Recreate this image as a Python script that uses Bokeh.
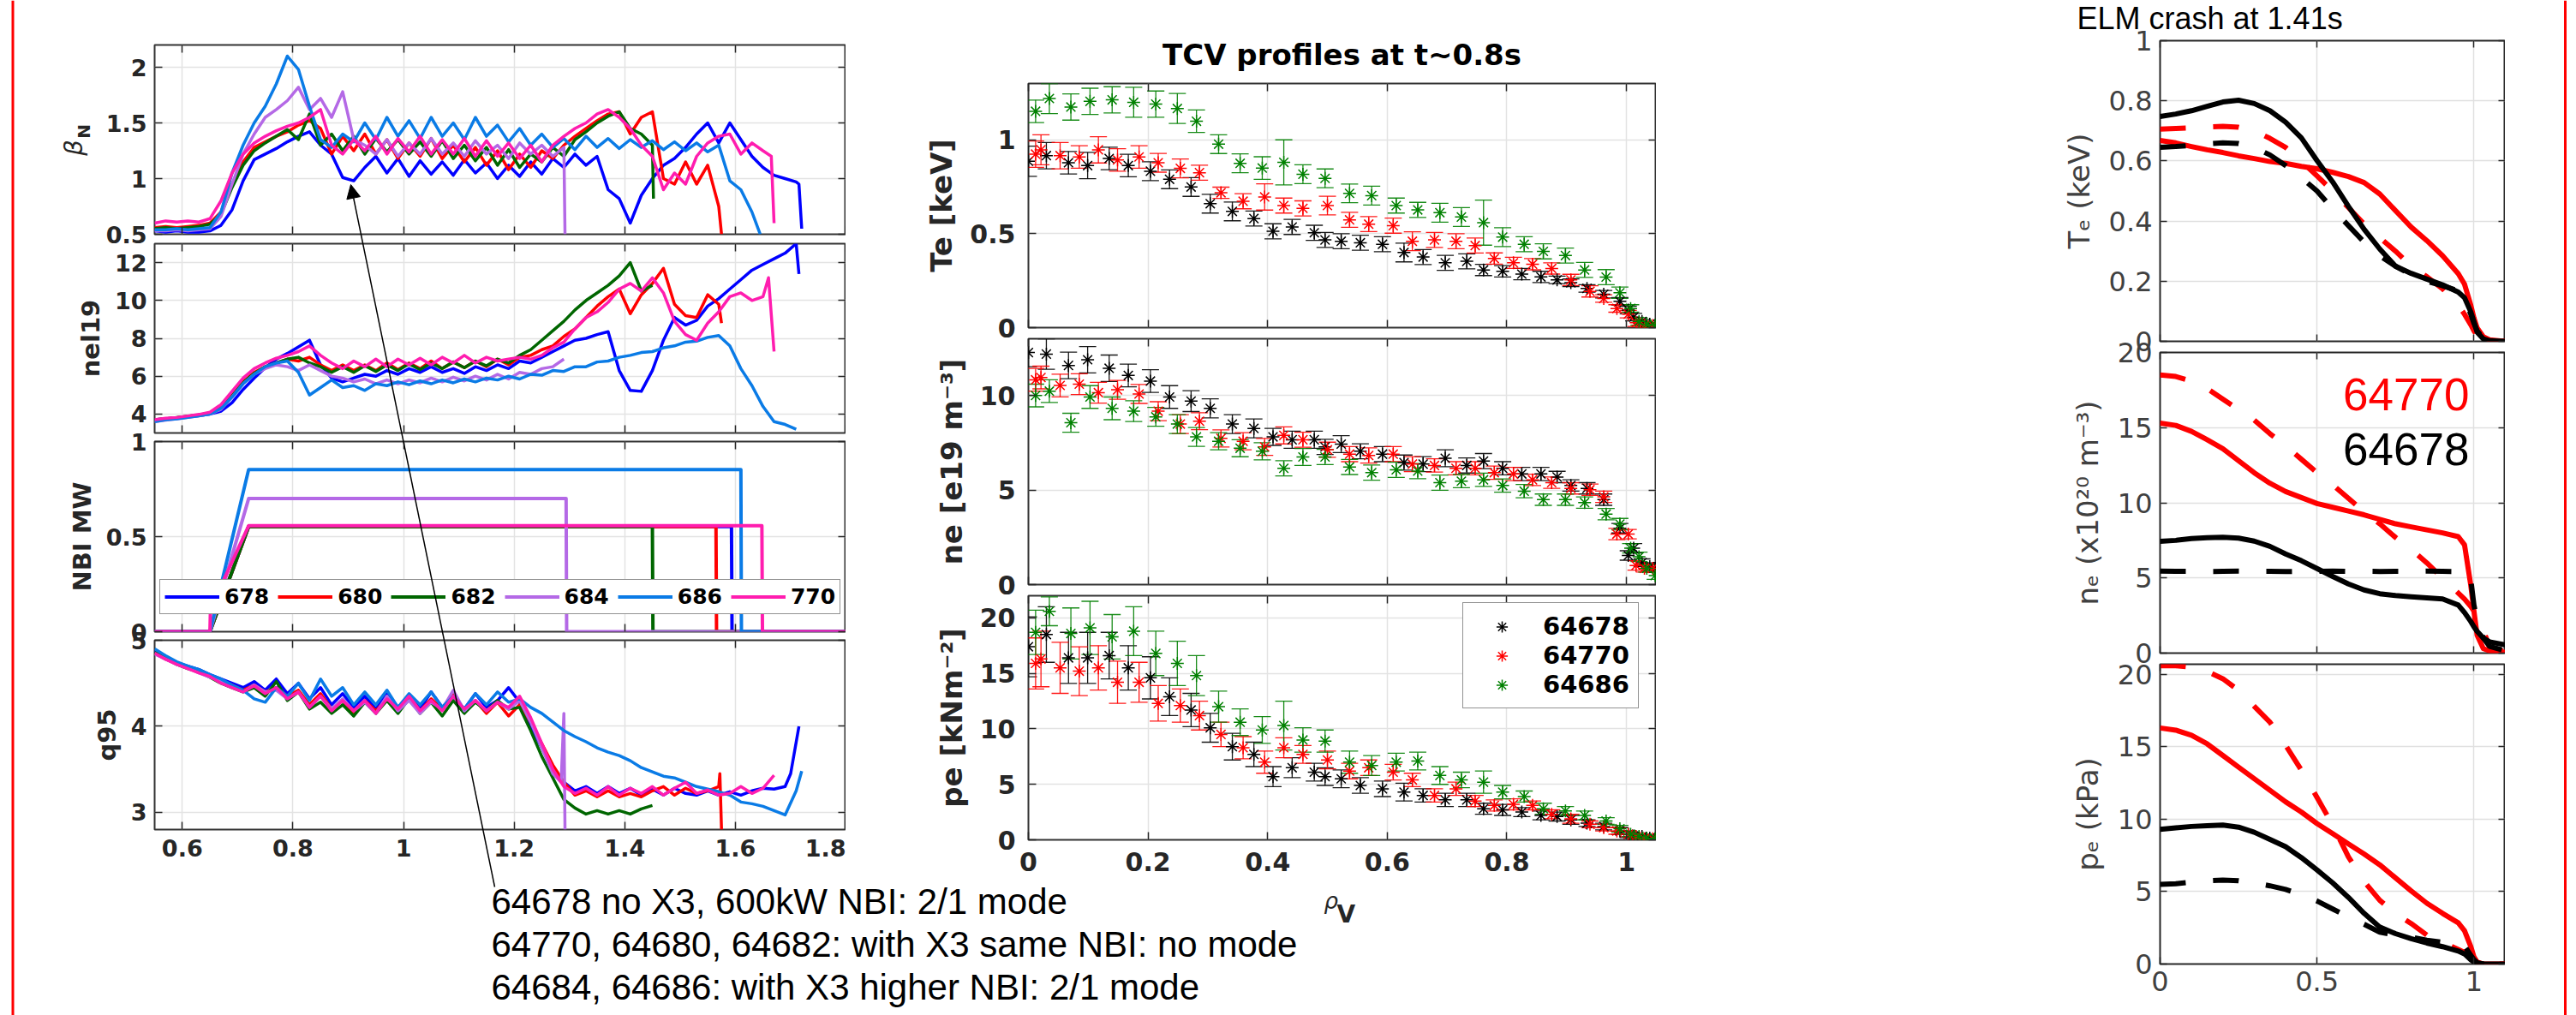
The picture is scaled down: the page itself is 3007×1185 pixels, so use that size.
import math
from bokeh.plotting import figure
from bokeh.models import (Range1d, FixedTicker, LinearAxis, Legend, LegendItem,
                          Whisker, TeeHead, ColumnDataSource, Label, Arrow,
                          NormalHead, CustomJSTickFormatter, Column, Span)
from bokeh.embed import file_html
from bokeh.resources import INLINE

# ======================= DATA =======================
# ---- left column: time traces (legend shows last 3 digits of shot) ----
SHOTS = ["678", "680", "682", "684", "686", "770"]
COLORS = ["#0000FF", "#FF0000", "#006600", "#B469E6", "#0A7BE6", "#FF1DAF"]

T = [0.55, 0.57, 0.59, 0.61, 0.63, 0.65, 0.67, 0.69, 0.71, 0.73,
     0.75, 0.77, 0.79, 0.81, 0.83, 0.85, 0.87, 0.89, 0.91, 0.93,
     0.95, 0.97, 0.99, 1.01, 1.03, 1.05, 1.07, 1.09, 1.11, 1.13,
     1.15, 1.17, 1.19, 1.21, 1.23, 1.25, 1.27, 1.29, 1.31, 1.33,
     1.35, 1.37, 1.39, 1.41, 1.43, 1.45, 1.47, 1.49, 1.51, 1.53,
     1.55, 1.57, 1.59, 1.61, 1.63, 1.65, 1.67, 1.69, 1.71]

# beta_N
bn_678 = [0.53, 0.52, 0.53, 0.52, 0.52, 0.53, 0.58, 0.72, 0.98, 1.17,
          1.22, 1.27, 1.33, 1.38, 1.42, 1.30, 1.22, 1.01, 0.98, 1.10,
          1.20, 1.05, 1.18, 1.02, 1.16, 1.04, 1.15, 1.03, 1.17, 1.05,
          1.14, 1.00, 1.12, 1.02, 1.15, 1.04, 1.18, 1.10, 1.22, 1.12,
          1.20, 0.90, 0.82, 0.60, 0.85, 1.00, 1.12, 1.18, 1.28, 1.40,
          1.50, 1.32, 1.50, 1.35, 1.20, 1.10, 1.03, 1.00, 0.97]
bn_678_et, bn_678_ev = [1.715, 1.72], [0.95, 0.55]
bn_680 = [0.56, 0.57, 0.56, 0.57, 0.58, 0.60, 0.70, 0.95, 1.15, 1.28,
          1.33, 1.38, 1.42, 1.48, 1.52, 1.45, 1.22, 1.38, 1.25, 1.40,
          1.22, 1.35, 1.18, 1.32, 1.20, 1.36, 1.18, 1.30, 1.15, 1.28,
          1.12, 1.25, 1.08, 1.22, 1.10, 1.25, 1.18, 1.30, 1.38, 1.45,
          1.52, 1.58, 1.60, 1.40, 1.55, 1.60, 1.00, 0.95, 1.15, 0.95,
          1.12, 0.75]
bn_680_et, bn_680_ev = [1.575], [0.5]
bn_682 = [0.55, 0.56, 0.55, 0.56, 0.57, 0.59, 0.68, 0.92, 1.12, 1.25,
          1.32, 1.38, 1.44, 1.35, 1.58, 1.30, 1.40, 1.25, 1.38, 1.22,
          1.36, 1.24, 1.35, 1.22, 1.33, 1.20, 1.34, 1.18, 1.30, 1.16,
          1.28, 1.12, 1.26, 1.10, 1.22, 1.15, 1.28, 1.20, 1.35, 1.42,
          1.50, 1.56, 1.60, 1.45, 1.40]
bn_682_et, bn_682_ev = [1.45, 1.452], [1.30, 0.82]
bn_684 = [0.53, 0.53, 0.54, 0.53, 0.54, 0.55, 0.66, 0.95, 1.22, 1.40,
          1.55, 1.62, 1.70, 1.82, 1.62, 1.72, 1.55, 1.78, 1.35, 1.30,
          1.22, 1.35, 1.20, 1.32, 1.22, 1.36, 1.22, 1.32, 1.20, 1.34,
          1.22, 1.30, 1.18, 1.32, 1.22, 1.30, 1.20]
bn_684_et, bn_684_ev = [1.29, 1.292], [1.28, 0.5]
bn_686 = [0.54, 0.54, 0.55, 0.54, 0.55, 0.56, 0.70, 1.05, 1.30, 1.50,
          1.65, 1.85, 2.10, 1.98, 1.65, 1.35, 1.28, 1.40, 1.33, 1.50,
          1.35, 1.55, 1.38, 1.52, 1.36, 1.55, 1.38, 1.50, 1.35, 1.55,
          1.38, 1.48, 1.33, 1.45, 1.30, 1.40, 1.28, 1.36, 1.26, 1.38,
          1.28, 1.36, 1.27, 1.35, 1.28, 1.34, 1.26, 1.33, 1.25, 1.32,
          1.24, 1.30, 0.98, 0.90, 0.70]
bn_686_et, bn_686_ev = [1.645], [0.5]
bn_770 = [0.60, 0.62, 0.61, 0.62, 0.61, 0.64, 0.80, 1.05, 1.22, 1.32,
          1.38, 1.43, 1.47, 1.50, 1.55, 1.62, 1.30, 1.22, 1.35, 1.25,
          1.38, 1.22, 1.36, 1.24, 1.38, 1.22, 1.35, 1.22, 1.36, 1.20,
          1.34, 1.20, 1.32, 1.18, 1.30, 1.15, 1.30, 1.38, 1.45, 1.50,
          1.58, 1.62, 1.55, 1.45, 1.30, 1.20, 0.90, 1.05, 0.95, 1.20,
          1.32, 1.38, 1.40, 1.22, 1.32, 1.25]
bn_770_et, bn_770_ev = [1.665, 1.67], [1.20, 0.6]

# nel19
ne_678 = [3.70, 3.75, 3.80, 3.85, 3.92, 4.00, 4.15, 4.60, 5.30, 5.90,
          6.45, 6.90, 7.20, 7.55, 7.90, 6.60, 5.90, 5.70, 5.90, 6.10,
          6.00, 6.30, 6.10, 6.40, 6.20, 6.50, 6.20, 6.40, 6.15, 6.50,
          6.30, 6.60, 6.40, 6.80, 6.70, 7.00, 7.30, 7.60, 7.90, 8.00,
          8.20, 8.35, 6.30, 5.25, 5.20, 6.30, 7.90, 9.10, 8.70, 8.95,
          9.70, 10.10, 10.60, 11.10, 11.60, 11.90, 12.20, 12.50, 13.00]
ne_678_et, ne_678_ev = [1.715], [11.4]
ne_680 = [3.70, 3.75, 3.80, 3.88, 3.95, 4.05, 4.35, 5.00, 5.70, 6.20,
          6.50, 6.70, 6.90, 6.80, 7.00, 6.60, 6.30, 6.60, 6.30, 6.60,
          6.30, 6.70, 6.35, 6.70, 6.40, 6.80, 6.40, 6.75, 6.45, 6.80,
          6.50, 6.90, 6.60, 7.00, 7.10, 7.40, 7.60, 8.10, 8.50, 9.10,
          9.70, 10.20, 10.60, 9.30, 10.30, 10.90, 11.70, 9.80, 9.20, 9.10,
          10.30, 9.80]
ne_680_et, ne_680_ev = [1.575], [8.8]
ne_682 = [3.70, 3.75, 3.82, 3.88, 3.95, 4.05, 4.30, 4.95, 5.65, 6.15,
          6.50, 6.70, 6.90, 7.00, 6.70, 6.50, 6.20, 6.50, 6.20, 6.55,
          6.25, 6.60, 6.30, 6.65, 6.35, 6.70, 6.40, 6.75, 6.45, 6.80,
          6.55, 6.90, 6.70, 7.10, 7.40, 7.90, 8.40, 8.90, 9.50, 10.00,
          10.40, 10.80, 11.30, 12.00, 10.50, 10.80]
ne_682_et, ne_682_ev = [], []
ne_684 = [3.60, 3.68, 3.75, 3.82, 3.90, 4.00, 4.25, 4.90, 5.60, 6.10,
          6.40, 6.60, 6.50, 6.30, 6.60, 6.30, 6.00, 5.90, 5.70, 5.85,
          5.60, 5.80, 5.60, 5.80, 5.65, 5.90, 5.70, 5.95, 5.75, 6.00,
          5.80, 6.10, 5.85, 6.20, 6.10, 6.40, 6.50, 6.90]
ne_684_et, ne_684_ev = [], []
ne_686 = [3.60, 3.70, 3.75, 3.82, 3.90, 4.00, 4.30, 4.90, 5.60, 6.10,
          6.50, 6.70, 6.80, 6.20, 5.00, 5.40, 5.80, 5.40, 5.50, 5.25,
          5.60, 5.50, 5.70, 5.55, 5.75, 5.60, 5.80, 5.65, 5.85, 5.70,
          5.90, 5.80, 6.00, 5.85, 6.10, 6.05, 6.30, 6.25, 6.50, 6.50,
          6.75, 6.80, 7.00, 7.10, 7.25, 7.30, 7.50, 7.60, 7.80, 7.85,
          8.05, 8.15, 7.60, 6.40, 5.50, 4.40, 3.60, 3.45, 3.20]
ne_686_et, ne_686_ev = [], []
ne_770 = [3.70, 3.78, 3.82, 3.90, 3.98, 4.10, 4.50, 5.20, 5.90, 6.40,
          6.70, 6.95, 7.10, 7.30, 7.60, 7.10, 6.70, 6.40, 6.80, 6.50,
          6.90, 6.50, 6.90, 6.60, 6.95, 6.60, 7.00, 6.70, 7.10, 6.70,
          7.00, 6.80, 6.90, 7.00, 6.90, 7.10, 7.50, 7.80, 8.50, 9.10,
          9.40, 9.90, 10.60, 10.90, 10.50, 11.20, 10.40, 8.90, 8.20, 7.90,
          8.80, 9.40, 10.20, 10.40, 10.00, 10.20]
ne_770_et, ne_770_ev = [1.66, 1.665, 1.67], [11.2, 9.25, 7.3]

# NBI power (MW): step-like waveforms
nbi_678_t, nbi_678 = [0.55, 0.65, 0.72, 1.593, 1.594, 1.8], [0, 0, 0.553, 0.553, 0, 0]
nbi_680_t, nbi_680 = [0.55, 0.65, 0.72, 1.565, 1.566, 1.8], [0, 0, 0.553, 0.553, 0, 0]
nbi_682_t, nbi_682 = [0.55, 0.65, 0.72, 1.450, 1.451, 1.8], [0, 0, 0.553, 0.553, 0, 0]
nbi_684_t, nbi_684 = [0.55, 0.65, 0.72, 1.294, 1.295, 1.8], [0, 0, 0.700, 0.700, 0, 0]
nbi_686_t, nbi_686 = [0.55, 0.65, 0.72, 1.610, 1.611, 1.8], [0, 0, 0.853, 0.853, 0, 0]
nbi_770_t, nbi_770 = [0.55, 0.65, 0.651, 0.72, 1.648, 1.649, 1.8], [0, 0, 0.12, 0.557, 0.557, 0, 0]

# q95
q_678 = [4.88, 4.80, 4.74, 4.70, 4.66, 4.60, 4.55, 4.50, 4.45, 4.52,
         4.42, 4.55, 4.38, 4.50, 4.32, 4.45, 4.25, 4.38, 4.22, 4.35,
         4.20, 4.38, 4.22, 4.36, 4.20, 4.40, 4.22, 4.35, 4.20, 4.38,
         4.22, 4.30, 4.45, 4.28, 4.00, 3.75, 3.50, 3.35, 3.25, 3.30,
         3.22, 3.30, 3.22, 3.28, 3.20, 3.27, 3.20, 3.28, 3.22, 3.20,
         3.25, 3.20, 3.24, 3.20, 3.25, 3.28, 3.27, 3.30]
q_678_et, q_678_ev = [1.70, 1.715], [3.45, 4.0]
q_680 = [4.85, 4.78, 4.73, 4.68, 4.65, 4.58, 4.52, 4.48, 4.42, 4.48,
         4.40, 4.45, 4.35, 4.42, 4.25, 4.38, 4.20, 4.30, 4.15, 4.30,
         4.18, 4.32, 4.20, 4.35, 4.18, 4.32, 4.20, 4.38, 4.18, 4.30,
         4.15, 4.28, 4.12, 4.25, 4.05, 3.80, 3.55, 3.35, 3.20, 3.25,
         3.18, 3.25, 3.18, 3.22, 3.18, 3.25, 3.30, 3.20, 3.28, 3.22,
         3.25, 3.30]
q_680_et, q_680_ev = [1.572, 1.575], [3.45, 2.8]
q_682 = [4.86, 4.79, 4.72, 4.67, 4.63, 4.57, 4.50, 4.45, 4.40, 4.45,
         4.35, 4.52, 4.30, 4.40, 4.20, 4.28, 4.15, 4.25, 4.12, 4.28,
         4.15, 4.30, 4.15, 4.32, 4.15, 4.28, 4.12, 4.30, 4.15, 4.28,
         4.18, 4.30, 4.20, 4.22, 3.95, 3.65, 3.40, 3.15, 3.05, 2.98,
         3.02, 2.98, 3.02, 2.98, 3.04, 3.08]
q_682_et, q_682_ev = [], []
q_684 = [4.84, 4.78, 4.72, 4.68, 4.62, 4.57, 4.52, 4.46, 4.40, 4.48,
         4.40, 4.42, 4.32, 4.40, 4.22, 4.35, 4.20, 4.32, 4.18, 4.28,
         4.15, 4.35, 4.18, 4.30, 4.15, 4.28, 4.20, 4.42, 4.18, 4.30,
         4.18, 4.28, 4.20, 4.30, 4.05, 3.75, 3.45]
q_684_et, q_684_ev = [1.285, 1.29, 1.292], [3.35, 4.15, 2.8]
q_686 = [4.90, 4.82, 4.75, 4.70, 4.66, 4.60, 4.55, 4.48, 4.42, 4.32,
         4.28, 4.45, 4.35, 4.50, 4.30, 4.55, 4.35, 4.45, 4.25, 4.40,
         4.25, 4.42, 4.22, 4.38, 4.25, 4.40, 4.22, 4.35, 4.20, 4.38,
         4.25, 4.40, 4.28, 4.32, 4.22, 4.15, 4.05, 3.95, 3.88, 3.82,
         3.75, 3.70, 3.66, 3.60, 3.52, 3.47, 3.42, 3.40, 3.35, 3.30,
         3.27, 3.24, 3.20, 3.12, 3.10, 3.07, 3.02, 2.97, 3.25]
q_686_et, q_686_ev = [1.72], [3.48]
q_770 = [4.85, 4.78, 4.72, 4.67, 4.62, 4.58, 4.50, 4.45, 4.40, 4.47,
         4.38, 4.45, 4.32, 4.40, 4.22, 4.35, 4.18, 4.30, 4.18, 4.30,
         4.15, 4.32, 4.20, 4.35, 4.18, 4.30, 4.18, 4.35, 4.20, 4.30,
         4.18, 4.28, 4.22, 4.35, 4.10, 3.80, 3.50, 3.30, 3.22, 3.28,
         3.20, 3.30, 3.20, 3.28, 3.22, 3.30, 3.20, 3.28, 3.35, 3.22,
         3.26, 3.20, 3.22, 3.30, 3.22, 3.28]
q_770_et, q_770_ev = [1.67], [3.43]

# ---- middle column: TCV profiles at t~0.8s ----
PROF_SHOTS = ["64678", "64770", "64686"]
PROF_COLORS = ["#000000", "#FF0000", "#008000"]

rho_678 = [0.0, 0.03, 0.067, 0.099, 0.135, 0.167, 0.204, 0.236, 0.272, 0.304,
           0.341, 0.377, 0.409, 0.441, 0.478, 0.496, 0.523, 0.555, 0.592, 0.628,
           0.66, 0.697, 0.733, 0.761, 0.793, 0.825, 0.857, 0.884, 0.907, 0.934,
           0.962, 0.989, 1.003, 1.012, 1.026, 1.039, 1.048]
te_678 = [0.886, 0.916, 0.878, 0.863, 0.901, 0.863, 0.833, 0.79, 0.749, 0.66,
          0.619, 0.581, 0.513, 0.536, 0.505, 0.467, 0.46, 0.452, 0.444, 0.40,
          0.376, 0.345, 0.353, 0.307, 0.30, 0.285, 0.27, 0.254, 0.239, 0.209,
          0.178, 0.14, 0.094, 0.056, 0.033, 0.018, 0.011]
te_678_err = [0.08, 0.07, 0.06, 0.07, 0.06, 0.06, 0.05, 0.05, 0.05, 0.05,
              0.05, 0.04, 0.04, 0.04, 0.04, 0.04, 0.04, 0.04, 0.04, 0.05,
              0.04, 0.04, 0.04, 0.03, 0.03, 0.03, 0.03, 0.02, 0.02, 0.02,
              0.02, 0.02, 0.02, 0.02, 0.01, 0.01, 0.01]
dn_678 = [12.27, 12.19, 11.59, 11.89, 11.44, 11.06, 10.76, 9.92, 9.70, 9.32,
          8.49, 8.26, 7.81, 7.66, 7.66, 7.28, 7.43, 7.05, 6.90, 6.45,
          6.37, 6.68, 6.30, 6.53, 6.15, 5.85, 5.85, 5.69, 5.24, 5.09,
          4.49, 2.98, 1.54, 1.92, 1.16, 0.95, 0.86]
dn_678_err = [0.75, 0.8, 0.7, 0.7, 0.7, 0.6, 0.6, 0.6, 0.55, 0.5,
              0.5, 0.5, 0.45, 0.45, 0.45, 0.4, 0.45, 0.4, 0.4, 0.4,
              0.4, 0.45, 0.4, 0.4, 0.35, 0.35, 0.35, 0.3, 0.3, 0.3,
              0.3, 0.25, 0.25, 0.25, 0.2, 0.2, 0.2]
pe_678 = [17.4, 18.5, 16.4, 16.4, 16.6, 15.5, 14.6, 12.9, 11.7, 10.1,
          8.4, 7.7, 5.7, 6.5, 6.1, 5.7, 5.5, 4.9, 4.6, 4.3,
          4.0, 3.6, 3.6, 2.8, 2.7, 2.5, 2.2, 2.1, 1.8, 1.5,
          1.2, 0.8, 0.5, 0.35, 0.3, 0.15, 0.1]
pe_678_err = [2.7, 2.5, 2.3, 2.3, 2.1, 2.0, 1.9, 1.7, 1.5, 1.3,
              1.2, 1.1, 0.9, 0.9, 0.8, 0.8, 0.8, 0.7, 0.7, 0.8,
              0.6, 0.6, 0.6, 0.5, 0.5, 0.4, 0.4, 0.4, 0.4, 0.3,
              0.3, 0.3, 0.3, 0.2, 0.2, 0.2, 0.2]

rho_770 = [0.012, 0.021, 0.053, 0.085, 0.117, 0.149, 0.185, 0.217, 0.254, 0.286,
           0.322, 0.359, 0.395, 0.427, 0.459, 0.5, 0.537, 0.569, 0.61, 0.642,
           0.679, 0.715, 0.747, 0.779, 0.811, 0.843, 0.875, 0.907, 0.939, 0.962,
           0.984, 1.003, 1.016, 1.03, 1.044]
te_770 = [0.924, 0.947, 0.916, 0.909, 0.947, 0.893, 0.909, 0.878, 0.848, 0.825,
          0.718, 0.673, 0.696, 0.650, 0.635, 0.650, 0.574, 0.551, 0.543, 0.46,
          0.467, 0.46, 0.437, 0.368, 0.345, 0.338, 0.315, 0.254, 0.193, 0.155,
          0.102, 0.072, 0.026, 0.011, 0.011]
te_770_err = [0.07, 0.08, 0.07, 0.06, 0.07, 0.06, 0.06, 0.05, 0.05, 0.04,
              0.03, 0.04, 0.07, 0.04, 0.04, 0.05, 0.04, 0.04, 0.04, 0.05,
              0.04, 0.04, 0.04, 0.03, 0.03, 0.03, 0.03, 0.03, 0.03, 0.02,
              0.02, 0.02, 0.02, 0.01, 0.01]
dn_770 = [10.83, 10.95, 10.53, 10.60, 10.15, 10.30, 10.08, 9.17, 8.49, 8.64,
          7.73, 7.58, 7.28, 7.89, 7.66, 7.13, 6.90, 6.83, 6.90, 6.37,
          6.30, 6.15, 6.15, 5.92, 5.85, 5.54, 5.39, 5.09, 5.02, 4.64,
          2.67, 2.67, 1.01, 0.86, 0.86]
dn_770_err = [0.6, 0.6, 0.6, 0.55, 0.55, 0.5, 0.5, 0.5, 0.5, 0.45,
              0.45, 0.45, 0.45, 0.45, 0.4, 0.4, 0.4, 0.4, 0.4, 0.4,
              0.35, 0.35, 0.35, 0.35, 0.35, 0.3, 0.3, 0.3, 0.3, 0.3,
              0.3, 0.25, 0.25, 0.2, 0.2]
pe_770 = [15.9, 16.3, 15.5, 15.2, 15.5, 14.2, 14.2, 12.3, 12.1, 11.2,
          9.5, 8.3, 7.0, 8.3, 7.7, 7.2, 6.2, 6.5, 6.1, 5.4,
          4.0, 4.6, 3.5, 3.1, 3.2, 3.1, 2.3, 1.9, 1.4, 1.1,
          0.8, 0.5, 0.3, 0.1, 0.1]
pe_770_err = [2.3, 2.5, 2.3, 2.2, 2.0, 1.9, 1.8, 1.6, 1.5, 1.3,
              1.1, 1.0, 1.0, 0.9, 0.8, 0.8, 0.7, 0.7, 0.7, 0.6,
              0.6, 0.6, 0.5, 0.5, 0.5, 0.4, 0.4, 0.4, 0.3, 0.3,
              0.3, 0.2, 0.2, 0.2, 0.2]

rho_686 = [0.012, 0.035, 0.071, 0.103, 0.14, 0.176, 0.213, 0.249, 0.281, 0.318,
           0.354, 0.391, 0.427, 0.459, 0.496, 0.537, 0.574, 0.615, 0.651, 0.688,
           0.724, 0.761, 0.793, 0.829, 0.861, 0.898, 0.93, 0.966, 0.989, 1.007,
           1.021, 1.034, 1.048]
te_686 = [1.152, 1.22, 1.175, 1.205, 1.213, 1.20, 1.19, 1.167, 1.099, 0.977,
          0.875, 0.85, 0.88, 0.817, 0.795, 0.715, 0.703, 0.65, 0.627, 0.612,
          0.589, 0.559, 0.482, 0.444, 0.406, 0.384, 0.307, 0.269, 0.186, 0.102,
          0.033, 0.018, 0.011]
te_686_err = [0.06, 0.08, 0.07, 0.07, 0.07, 0.08, 0.07, 0.08, 0.06, 0.05,
              0.05, 0.06, 0.12, 0.05, 0.05, 0.05, 0.05, 0.04, 0.04, 0.05,
              0.05, 0.12, 0.05, 0.04, 0.04, 0.04, 0.04, 0.04, 0.03, 0.02,
              0.02, 0.01, 0.01]
dn_686 = [10.0, 10.23, 8.56, 9.92, 9.32, 9.17, 8.87, 8.49, 7.81, 7.58,
          7.21, 7.05, 6.15, 6.75, 6.75, 6.22, 5.92, 6.07, 6.00, 5.39,
          5.47, 5.54, 5.24, 4.94, 4.49, 4.49, 4.34, 3.73, 3.20, 1.92,
          1.47, 0.86, 0.48]
dn_686_err = [0.6, 0.6, 0.5, 0.6, 0.6, 0.55, 0.5, 0.5, 0.5, 0.45,
              0.45, 0.45, 0.4, 0.45, 0.4, 0.4, 0.4, 0.4, 0.4, 0.4,
              0.35, 0.35, 0.35, 0.35, 0.3, 0.3, 0.3, 0.3, 0.3, 0.25,
              0.25, 0.2, 0.2]
pe_686 = [18.7, 20.6, 18.6, 19.1, 18.3, 18.8, 16.8, 15.9, 14.8, 12.0,
          10.6, 9.9, 10.3, 9.0, 8.9, 7.0, 6.7, 7.0, 7.1, 5.8,
          5.4, 5.2, 4.3, 3.9, 2.8, 2.6, 2.2, 1.7, 1.0, 0.5,
          0.3, 0.15, 0.1]
pe_686_err = [2.0, 1.3, 2.3, 2.4, 2.0, 2.2, 2.0, 2.0, 1.8, 1.4,
              1.2, 1.2, 2.2, 1.1, 1.0, 1.0, 0.9, 0.8, 0.8, 0.8,
              0.7, 1.0, 0.6, 0.5, 0.5, 0.4, 0.4, 0.3, 0.3, 0.2,
              0.2, 0.2, 0.2]

# ---- right column: profiles around the ELM crash at 1.41s ----
rx = [0.0, 0.05, 0.1, 0.15, 0.2, 0.25, 0.3, 0.35, 0.4, 0.45,
      0.5, 0.55, 0.6, 0.65, 0.7, 0.75, 0.8, 0.85, 0.9, 0.95,
      0.97, 0.99, 1.0, 1.01, 1.03, 1.05, 1.1]
rte_678_s = [0.748, 0.756, 0.767, 0.782, 0.796, 0.802, 0.791, 0.767, 0.729, 0.677,
             0.601, 0.53, 0.449, 0.373, 0.307, 0.25, 0.226, 0.207, 0.188, 0.164,
             0.145, 0.098, 0.065, 0.031, 0.008, 0.002, 0.0]
rte_678_d = [0.645, 0.648, 0.652, 0.657, 0.66, 0.658, 0.645, 0.62, 0.585, 0.545,
             0.5, 0.44, 0.385, 0.33, 0.285, 0.25, 0.222, 0.2, 0.185, 0.168,
             0.14, 0.09, 0.06, 0.035, 0.01, 0.0, 0.0]
rte_770_s = [0.668, 0.66, 0.648, 0.637, 0.628, 0.617, 0.608, 0.598, 0.592, 0.582,
             0.574, 0.562, 0.548, 0.528, 0.49, 0.435, 0.38, 0.335, 0.285, 0.225,
             0.19, 0.12, 0.078, 0.045, 0.015, 0.005, 0.0]
rte_770_d = [0.706, 0.708, 0.71, 0.713, 0.715, 0.712, 0.70, 0.675, 0.645, 0.60,
             0.55, 0.50, 0.445, 0.39, 0.345, 0.30, 0.25, 0.215, 0.175, 0.12,
             0.09, 0.055, 0.035, 0.02, 0.005, 0.0, 0.0]
rne_678_s = [7.43, 7.5, 7.62, 7.68, 7.7, 7.65, 7.45, 7.1, 6.6, 6.15,
             5.63, 5.1, 4.6, 4.2, 3.95, 3.83, 3.75, 3.68, 3.6, 3.2,
             2.7, 2.1, 1.75, 1.45, 1.0, 0.75, 0.55]
rne_678_d = [5.45, 5.44, 5.44, 5.43, 5.44, 5.45, 5.44, 5.44, 5.43, 5.44,
             5.44, 5.45, 5.44, 5.44, 5.43, 5.44, 5.44, 5.45, 5.44, 5.43,
             5.4, 4.9, 3.2, 2.2, 1.0, 0.45, 0.15]
rne_770_s = [15.3, 15.15, 14.75, 14.2, 13.6, 12.8, 12.0, 11.3, 10.75, 10.35,
             9.95, 9.7, 9.45, 9.2, 8.9, 8.6, 8.4, 8.2, 8.0, 7.75,
             7.2, 4.5, 2.8, 1.2, 0.3, 0.15, 0.05]
rne_770_d = [18.5, 18.4, 18.1, 17.6, 16.9, 16.2, 15.5, 14.6, 13.8, 12.9,
             12.0, 11.2, 10.3, 9.4, 8.6, 7.7, 6.9, 6.0, 5.0, 4.0,
             3.6, 3.1, 2.8, 2.4, 1.5, 0.4, 0.1]
rpe_678_s = [9.3, 9.4, 9.5, 9.55, 9.6, 9.45, 9.1, 8.6, 8.1, 7.35,
             6.5, 5.6, 4.6, 3.5, 2.55, 2.1, 1.75, 1.45, 1.2, 0.9,
             0.7, 0.3, 0.15, 0.05, 0.0, 0.0, 0.0]
rpe_678_d = [5.5, 5.55, 5.65, 5.75, 5.8, 5.75, 5.6, 5.4, 5.15, 4.8,
             4.35, 3.8, 3.25, 2.75, 2.2, 2.0, 1.85, 1.65, 1.5, 1.35,
             1.25, 0.6, 0.3, 0.1, 0.0, 0.0, 0.0]
rpe_770_s = [16.3, 16.15, 15.8, 15.2, 14.4, 13.6, 12.8, 12.0, 11.2, 10.5,
             9.7, 9.0, 8.3, 7.6, 6.85, 5.95, 5.05, 4.2, 3.5, 2.85,
             2.3, 1.2, 0.5, 0.15, 0.0, 0.0, 0.0]
rpe_770_d = [20.6, 20.6, 20.5, 20.2, 19.7, 18.9, 17.8, 16.7, 15.1, 13.4,
             11.5, 9.6, 7.4, 5.7, 4.4, 3.5, 2.8, 2.0, 1.5, 1.0,
             0.8, 0.4, 0.2, 0.1, 0.0, 0.0, 0.0]

NOTES = ["64678 no X3, 600kW NBI: 2/1 mode",
         "64770, 64680, 64682: with X3 same NBI: no mode",
         "64684, 64686: with X3 higher NBI: 2/1 mode"]

# ======================= HELPERS =======================
FMT = CustomJSTickFormatter(code="return String(Math.round(tick*1000)/1000);")
DV = "DejaVu Sans"
LS = "Liberation Sans"
BL, BR, BT = 240, 0, 40      # identical left/right borders for every figure
PAGE_W, PAGE_H = 3007, 1185
# The whole layout box is shifted left by BL, so a child at css-left=X has its
# frame starting at page x = X.


def panel(fl, ft, fw, fh, xr, yr, xt, yt, bb, tsize, tstyle, tcolor,
          show_x, x_so, y_so, ylabel=None, lsize=None, lstyle="bold",
          lcolor="#262626", lab_so=8, tick_len=9, outline="#333333",
          grid_color="#e3e3e3"):
    p = figure(frame_width=fw, frame_height=fh,
               x_range=Range1d(*xr), y_range=Range1d(*yr),
               output_backend="svg", toolbar_location=None,
               min_border_left=BL, min_border_right=BR,
               min_border_top=BT, min_border_bottom=bb,
               background_fill_color="white", border_fill_color=None,
               outline_line_color=outline, outline_line_width=2)
    p.styles = {"position": "absolute", "left": f"{fl}px", "top": f"{ft - BT}px"}
    xa, ya = p.xaxis[0], p.yaxis[0]
    for ax, ticks in ((xa, xt), (ya, yt)):
        ax.ticker = FixedTicker(ticks=ticks)
        ax.formatter = FMT
        ax.major_tick_in = tick_len
        ax.major_tick_out = 0
        ax.minor_tick_line_color = None
        ax.axis_line_color = None
        ax.major_tick_line_color = "#262626"
        ax.major_tick_line_width = 1.5
        ax.major_label_text_font = DV
        ax.major_label_text_font_size = tsize
        ax.major_label_text_font_style = tstyle
        ax.major_label_text_color = tcolor
    xa.major_label_standoff = x_so
    ya.major_label_standoff = y_so
    if not show_x:
        xa.major_label_text_color = None
        xa.major_label_text_font_size = "8px"
    if ylabel:
        ya.axis_label = ylabel
        ya.axis_label_text_font = DV
        ya.axis_label_text_font_size = lsize
        ya.axis_label_text_font_style = lstyle
        ya.axis_label_text_color = lcolor
        ya.axis_label_standoff = lab_so
    for side, ticks in (("right", yt), ("above", xt)):
        ax = LinearAxis(ticker=FixedTicker(ticks=ticks), major_tick_in=tick_len,
                        major_tick_out=0, minor_tick_line_color=None,
                        axis_line_color=None, major_tick_line_color="#262626",
                        major_tick_line_width=1.5, major_label_text_color=None,
                        major_label_text_font_size="0px", major_label_standoff=0)
        p.add_layout(ax, side)
    p.xgrid.ticker = FixedTicker(ticks=xt)
    p.ygrid.ticker = FixedTicker(ticks=yt)
    p.grid.grid_line_color = grid_color
    p.grid.grid_line_width = 1.5
    return p


figs = []

# ======================= LEFT COLUMN =======================
LX = (0.55, 1.8)
LXT = [0.6, 0.8, 1.0, 1.2, 1.4, 1.6, 1.8]
left_common = dict(fw=807, xr=LX, xt=LXT, bb=70, tsize="27px",
                   tstyle="bold", tcolor="#262626", x_so=11, y_so=9,
                   lsize="29px", lab_so=8)

p_bn = panel(180, 52, fh=221, yr=(0.5, 2.2), yt=[0.5, 1, 1.5, 2], show_x=False,
             **left_common)
p_ne = panel(180, 284, fh=221, yr=(3, 13), yt=[4, 6, 8, 10, 12], show_x=False,
             ylabel="nel19", **left_common)
p_nbi = panel(180, 515, fh=222, yr=(0, 1), yt=[0, 0.5, 1], show_x=False,
              ylabel="NBI MW", **left_common)
p_q = panel(180, 747, fh=221, yr=(2.8, 5), yt=[3, 4, 5], show_x=True,
            ylabel="q95", **left_common)

BN = [(bn_678, bn_678_et, bn_678_ev), (bn_680, bn_680_et, bn_680_ev),
      (bn_682, bn_682_et, bn_682_ev), (bn_684, bn_684_et, bn_684_ev),
      (bn_686, bn_686_et, bn_686_ev), (bn_770, bn_770_et, bn_770_ev)]
NEL = [(ne_678, ne_678_et, ne_678_ev), (ne_680, ne_680_et, ne_680_ev),
       (ne_682, ne_682_et, ne_682_ev), (ne_684, ne_684_et, ne_684_ev),
       (ne_686, ne_686_et, ne_686_ev), (ne_770, ne_770_et, ne_770_ev)]
Q95 = [(q_678, q_678_et, q_678_ev), (q_680, q_680_et, q_680_ev),
       (q_682, q_682_et, q_682_ev), (q_684, q_684_et, q_684_ev),
       (q_686, q_686_et, q_686_ev), (q_770, q_770_et, q_770_ev)]
NBI = [(nbi_678_t, nbi_678), (nbi_680_t, nbi_680), (nbi_682_t, nbi_682),
       (nbi_684_t, nbi_684), (nbi_686_t, nbi_686), (nbi_770_t, nbi_770)]

for p, data in ((p_bn, BN), (p_ne, NEL), (p_q, Q95)):
    for (vals, et, ev), c in zip(data, COLORS):
        tt = T[:len(vals)] + et
        vv = vals + ev
        p.line(tt, vv, line_color=c, line_width=3.5, line_join="round")

nbi_r = []
for (tt, vv), c in zip(NBI, COLORS):
    nbi_r.append(p_nbi.line(tt, vv, line_color=c, line_width=4, line_join="round"))

leg = Legend(items=[LegendItem(label=s, renderers=[r]) for s, r in zip(SHOTS, nbi_r)],
             orientation="horizontal", location=(6, 20),
             label_text_font=DV, label_text_font_style="bold",
             label_text_font_size="25px", label_text_color="#000000",
             glyph_width=64, glyph_height=25, label_standoff=6, spacing=10,
             padding=5, border_line_color="#262626", border_line_width=1.5,
             background_fill_color="white", background_fill_alpha=1.0)
p_nbi.add_layout(leg)

figs += [p_bn, p_ne, p_nbi, p_q]

# ======================= MIDDLE COLUMN =======================
MX = (0, 1.05)
MXT = [0, 0.2, 0.4, 0.6, 0.8, 1.0]
mid_common = dict(fw=733, xr=MX, xt=MXT, bb=70, tsize="30px",
                  tstyle="bold", tcolor="#262626", x_so=14, y_so=15,
                  lsize="34px", lab_so=10)
p_te = panel(1200, 97, fh=285, yr=(0, 1.3), yt=[0, 0.5, 1], show_x=False,
             ylabel="Te [keV]", **mid_common)
p_dn = panel(1200, 395, fh=287, yr=(0, 13), yt=[0, 5, 10], show_x=False,
             ylabel="ne [e19 m⁻³]", **mid_common)
p_pe = panel(1200, 695, fh=285, yr=(0, 22), yt=[0, 5, 10, 15, 20], show_x=True,
             ylabel="pe [kNm⁻²]", **mid_common)

PROF = {
    "te": [(rho_678, te_678, te_678_err), (rho_770, te_770, te_770_err),
           (rho_686, te_686, te_686_err)],
    "dn": [(rho_678, dn_678, dn_678_err), (rho_770, dn_770, dn_770_err),
           (rho_686, dn_686, dn_686_err)],
    "pe": [(rho_678, pe_678, pe_678_err), (rho_770, pe_770, pe_770_err),
           (rho_686, pe_686, pe_686_err)],
}
pe_r = []
for p, key in ((p_te, "te"), (p_dn, "dn"), (p_pe, "pe")):
    for (rr, vv, ee), c in zip(PROF[key], PROF_COLORS):
        src = ColumnDataSource(dict(x=rr, y=vv,
                                    up=[v + e for v, e in zip(vv, ee)],
                                    lo=[v - e for v, e in zip(vv, ee)]))
        w = Whisker(source=src, base="x", upper="up", lower="lo",
                    line_color=c, line_width=1.3, line_alpha=0.9,
                    upper_head=TeeHead(size=20, line_color=c, line_width=1.3, line_alpha=0.9),
                    lower_head=TeeHead(size=20, line_color=c, line_width=1.3, line_alpha=0.9))
        p.add_layout(w)
        r = p.scatter("x", "y", source=src, marker="asterisk", size=15,
                      line_color=c, line_width=1.5)
        if key == "pe":
            pe_r.append(r)

leg2 = Legend(items=[LegendItem(label=s, renderers=[r]) for s, r in zip(PROF_SHOTS, pe_r)],
              orientation="vertical", location=(507, 153),
              label_text_font=DV, label_text_font_style="bold",
              label_text_font_size="29px", label_text_color="#000000",
              glyph_width=70, glyph_height=33, label_standoff=13, spacing=0,
              padding=10, border_line_color="#262626", border_line_width=1.5,
              background_fill_color="white", background_fill_alpha=1.0)
p_pe.add_layout(leg2)

figs += [p_te, p_dn, p_pe]

# ======================= RIGHT COLUMN =======================
RXR = (0, 1.1)
RXT = [0, 0.5, 1]
right_common = dict(fw=403, xr=RXR, xt=RXT, bb=55, tsize="32px",
                    tstyle="normal", tcolor="#404040", x_so=8, y_so=9,
                    lsize="34px", lstyle="normal", lcolor="#404040", lab_so=12,
                    tick_len=8, outline="#262626", grid_color="#e0e0e0")
p_rte = panel(2521, 47, fh=351, yr=(0, 1), yt=[0, 0.2, 0.4, 0.6, 0.8, 1],
              show_x=False, ylabel="Tₑ (keV)", **right_common)
p_rne = panel(2521, 411, fh=351, yr=(0, 20), yt=[0, 5, 10, 15, 20],
              show_x=False, ylabel="nₑ (x10²⁰ m⁻³)", **right_common)
p_rpe = panel(2521, 775, fh=350, yr=(0, 20.7), yt=[0, 5, 10, 15, 20],
              show_x=True, ylabel="pₑ (kPa)", **right_common)

RIGHT = [(p_rte, rte_770_s, rte_770_d, rte_678_s, rte_678_d),
         (p_rne, rne_770_s, rne_770_d, rne_678_s, rne_678_d),
         (p_rpe, rpe_770_s, rpe_770_d, rpe_678_s, rpe_678_d)]
for p, rs, rd, ks, kd in RIGHT:
    p.line(rx, rs, line_color="#FF0000", line_width=6, line_join="round")
    p.line(rx, rd, line_color="#FF0000", line_width=6, line_dash="30 32")
    p.line(rx, ks, line_color="#000000", line_width=6, line_join="round")
    p.line(rx, kd, line_color="#000000", line_width=6, line_dash="30 32")

figs += [p_rte, p_rne, p_rpe]

# ======================= OVERLAY (page annotations, pixel coordinates) =======================
ov = figure(frame_width=PAGE_W, frame_height=PAGE_H,
            x_range=Range1d(0, PAGE_W), y_range=Range1d(PAGE_H, 0),
            output_backend="svg", toolbar_location=None,
            min_border_left=BL, min_border_right=BR, min_border_top=0, min_border_bottom=0,
            x_axis_type=None, y_axis_type=None, background_fill_color=None,
            border_fill_color=None, outline_line_color=None)
ov.styles = {"position": "absolute", "left": "0px", "top": "0px"}

ov.add_layout(Span(location=14.5, dimension="height", line_color="#FF0000", line_width=3))
ov.add_layout(Span(location=2994, dimension="height", line_color="#FF0000", line_width=3))

ov.add_layout(Arrow(x_start=577, y_start=1035, x_end=409, y_end=215,
                    line_color="black", line_width=1.5,
                    end=NormalHead(size=16, fill_color="black", line_color="black")))

ov.add_layout(Label(x=85, y=172, text="β", angle=math.pi / 2, text_align="center",
                    text_baseline="middle", text_font=DV, text_font_style="italic",
                    text_font_size="29px", text_color="#262626"))
ov.add_layout(Label(x=97, y=153, text="N", angle=math.pi / 2, text_align="center",
                    text_baseline="middle", text_font=DV, text_font_style="bold",
                    text_font_size="20px", text_color="#262626"))

ov.add_layout(Label(x=1566, y=83, text="TCV profiles at t~0.8s", text_align="center",
                    text_font=DV, text_font_style="bold", text_font_size="34px",
                    text_color="#000000"))
ov.add_layout(Label(x=1545, y=1066, text="ρ", text_font=DV, text_font_style="italic",
                    text_font_size="26px", text_color="#262626"))
ov.add_layout(Label(x=1560, y=1083, text="V", text_font=DV, text_font_style="bold",
                    text_font_size="28px", text_color="#262626"))

ov.add_layout(Label(x=2424, y=41, text="ELM crash at 1.41s", text_font=LS,
                    text_font_size="36px", text_color="#000000"))
ov.add_layout(Label(x=2882, y=478, text="64770", text_align="right", text_font=LS,
                    text_font_size="53px", text_color="#FF0000"))
ov.add_layout(Label(x=2882, y=542, text="64678", text_align="right", text_font=LS,
                    text_font_size="53px", text_color="#000000"))

for i, line in enumerate(NOTES):
    ov.add_layout(Label(x=573, y=1075 + 50 * i, text=line, text_font=LS,
                        text_font_size="42px", text_color="#000000"))

figs.append(ov)

root = Column(children=figs, width=BL + PAGE_W, height=PAGE_H,
              styles={"position": "absolute", "left": f"{-BL}px", "top": "0px",
                      "width": f"{BL + PAGE_W}px", "height": f"{PAGE_H}px",
                      "overflow": "hidden", "background": "white"})

open("out.html", "w").write(file_html(root, INLINE))
